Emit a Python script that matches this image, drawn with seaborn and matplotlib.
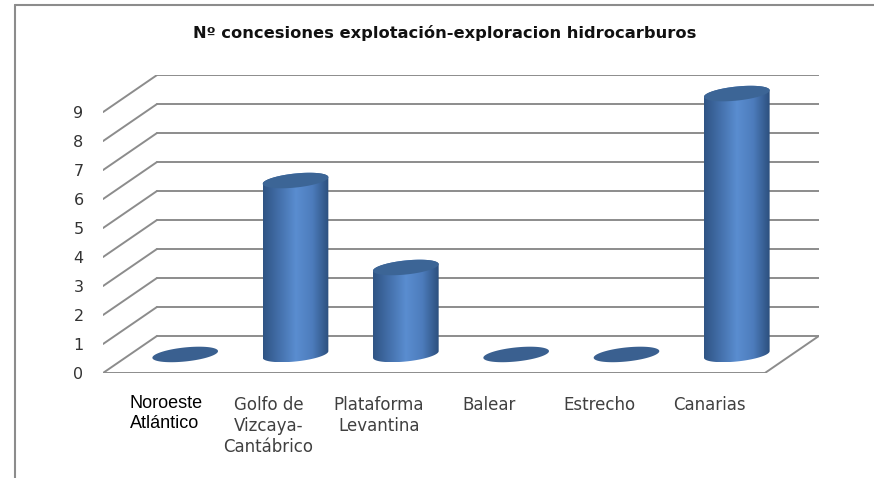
import matplotlib.pyplot as plt
import numpy as np
import seaborn as sns
from matplotlib.patches import Polygon
from matplotlib.lines import Line2D

# data
categories = ['Noroeste\nAtlántico', 'Golfo de\nVizcaya-\nCantábrico', 'Plataforma\nLevantina',
              'Balear', 'Estrecho', 'Canarias']
concesiones = [0, 6, 3, 0, 0, 9]
y_ticks = list(range(10))
title = 'Nº concesiones explotación-exploracion hidrocarburos'

sns.set_theme(style='white')
plt.rcParams['font.family'] = ['DejaVu Sans']

W, H = 874, 478
fig = plt.figure(figsize=(W / 100, H / 100), dpi=100)
fig.patch.set_facecolor('white')

# fake 3d: depth offset of the back wall, in data units
DX, DY = 0.49, 1.28
x0, x1 = -0.5, len(categories) - 0.5 + DX
y0, y1 = 0, max(y_ticks) + DY

left_px, right_px, base_px, top_px = 103, 819, 373, 75
ax = fig.add_axes([left_px / W, (H - base_px) / H, (right_px - left_px) / W, (base_px - top_px) / H])
ax.patch.set_alpha(0)
ux = (right_px - left_px) / (x1 - x0)   # px per category
uy = (base_px - top_px) / (y1 - y0)     # px per unit value

grid_col = '#8c8c8c'
for k in y_ticks:
    ax.plot([x0, x0 + DX], [k, k + DY], color=grid_col, lw=1.4, zorder=1)
    ax.plot([x0 + DX, x1], [k + DY, k + DY], color=grid_col, lw=1.4, zorder=1)
# floor
ax.plot([x0, x1 - DX, x1], [0, 0, DY], color=grid_col, lw=1.4, zorder=1)

# cylinder shading
cmap = sns.blend_palette(['#2f5484', '#4470ab', '#5a8dd0', '#4d7cbc', '#2c4f7d'], as_cmap=True)

A, B = 33.0, 7.0              # ellipse semi axes, px
theta = np.deg2rad(6)
ct, st = np.cos(theta), np.sin(theta)
t0 = np.arctan(-(B / A) * np.tan(theta))


def ell(cx, cy, t):
    ex = A * np.cos(t) * ct - B * np.sin(t) * st
    ey = A * np.cos(t) * st + B * np.sin(t) * ct
    return np.column_stack([cx + ex / ux, cy + ey / uy])


for i, v in enumerate(concesiones):
    cx, cy = i + DX / 2, DY / 2
    if v == 0:
        ax.add_patch(Polygon(ell(cx, cy, np.linspace(0, 2 * np.pi, 80)),
                             closed=True, facecolor='#3a6090', edgecolor='none', zorder=3))
        continue
    low = ell(cx, cy, np.linspace(t0 + np.pi, t0 + 2 * np.pi, 60))
    up = ell(cx, cy + v, np.linspace(t0, t0 + np.pi, 60))
    body = Polygon(np.vstack([low, up]), closed=True, facecolor='none', edgecolor='none',
                   transform=ax.transData)
    ax.add_patch(body)
    pts = np.vstack([low, up])
    im = ax.imshow(np.linspace(0, 1, 256)[None, :], cmap=cmap, aspect='auto', origin='lower',
                   extent=[pts[:, 0].min(), pts[:, 0].max(), pts[:, 1].min(), pts[:, 1].max()],
                   zorder=3)
    im.set_clip_path(body)
    ax.add_patch(Polygon(ell(cx, cy + v, np.linspace(0, 2 * np.pi, 80)),
                         closed=True, facecolor='#3c6596', edgecolor='none', zorder=4))

ax.set_xlim(x0, x1)
ax.set_ylim(y0, y1)
sns.despine(ax=ax, left=True, bottom=True, top=True, right=True)
ax.set_xticks([])
ax.set_yticks(y_ticks)
ax.set_yticklabels([str(k) for k in y_ticks])
ax.tick_params(axis='y', length=0, pad=14, labelsize=11.5, labelcolor='#333333')

for i, lab in enumerate(categories):
    if i == 0:
        ax.annotate(lab, xy=(i, 0), xytext=(8, -22), textcoords='offset pixels',
                    ha='center', va='top', multialignment='left', fontsize=13,
                    color='black', family=['Liberation Sans', 'DejaVu Sans'])
    else:
        ax.annotate(lab, xy=(i, 0), xytext=(0, -23), textcoords='offset pixels',
                    ha='center', va='top', fontsize=12, color='#404040', linespacing=1.2)

fig.text(445 / W, 1 - 33 / H, title, ha='center', va='center', fontsize=11.7,
         fontweight='bold', color='#111111')

# chart border (only left and top are visible in the crop)
fig.add_artist(Line2D([15 / W, 15 / W], [0, 1 - 5 / H], transform=fig.transFigure,
                      color='#8c8c8c', lw=1.5))
fig.add_artist(Line2D([15 / W, 1], [1 - 5 / H, 1 - 5 / H], transform=fig.transFigure,
                      color='#8c8c8c', lw=1.5))

fig.savefig('out.png', dpi=100)
